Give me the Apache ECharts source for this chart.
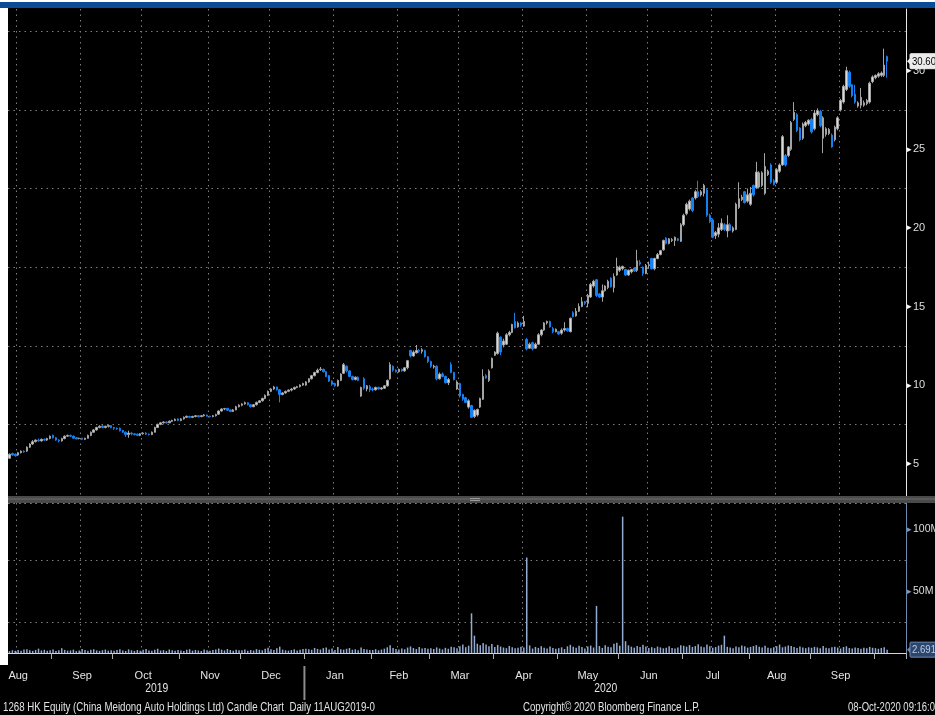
<!DOCTYPE html>
<html>
<head>
<meta charset="utf-8">
<title>1268 HK Equity Candle Chart</title>
<script src="https://cdn.jsdelivr.net/npm/echarts@6/dist/echarts.min.js"></script>
<style>
  html, body { margin: 0; padding: 0; background: #000; }
  #chart { width: 935px; height: 715px; }
</style>
</head>
<body>
<div id="chart"></div>
<script>
// daily candles, [open, close, low, high]
const aug19 = [
  [5.35,5.6,5.3,5.65],[5.65,5.55,5.5,5.7],[5.6,5.5,5.45,5.65],[5.55,5.7,5.5,5.75],[5.7,5.8,5.65,5.85],
  [5.8,5.75,5.7,5.85],[5.8,6.05,5.75,6.1],[6.05,6.25,6.0,6.3],[6.25,6.4,6.2,6.5],[6.4,6.5,6.35,6.55],
  [6.5,6.45,6.4,6.6],[6.45,6.55,6.4,6.6],[6.55,6.5,6.45,6.6],[6.5,6.6,6.45,6.65],[6.6,6.75,6.55,6.8]
];
const sep19 = [
  [6.8,6.65,6.6,6.85],[6.65,6.5,6.45,6.7],[6.5,6.45,6.35,6.55],[6.45,6.6,6.4,6.65],[6.6,6.75,6.55,6.8],
  [6.75,6.8,6.7,6.85],[6.8,6.75,6.7,6.85],[6.75,6.62,6.6,6.8],[6.65,6.58,6.55,6.7],[6.6,6.62,6.55,6.65],
  [6.62,6.55,6.5,6.65],[6.55,6.62,6.5,6.65],[6.62,6.8,6.6,6.85],[6.8,7.0,6.75,7.05],[7.0,7.15,6.95,7.2],
  [7.15,7.3,7.1,7.35],[7.3,7.38,7.25,7.45],[7.4,7.3,7.25,7.45],[7.3,7.38,7.25,7.42],[7.38,7.42,7.3,7.48],
  [7.42,7.3,7.25,7.45]
];
const oct19 = [
  [7.3,7.25,7.15,7.35],[7.25,7.22,7.15,7.3],[7.25,7.1,7.05,7.3],[7.12,7.0,6.95,7.15],[7.0,6.85,6.7,7.05],
  [6.85,6.95,6.65,7.1],[6.95,6.9,6.8,7.0],[6.9,6.85,6.8,6.95],[6.88,6.8,6.75,6.92],[6.8,6.9,6.75,6.95],
  [6.9,6.95,6.85,7.0],[6.95,6.88,6.82,7.0],[6.88,6.85,6.8,6.92],[6.85,7.0,6.82,7.05],[7.0,7.3,6.98,7.35],
  [7.3,7.5,7.28,7.55],[7.5,7.6,7.45,7.65],[7.6,7.65,7.55,7.7],[7.65,7.6,7.55,7.7],[7.6,7.7,7.58,7.75],
  [7.7,7.75,7.65,7.8],[7.75,7.82,7.7,7.88],[7.85,7.75,7.7,7.88]
];
const nov19 = [
  [7.75,7.85,7.7,7.9],[7.85,7.95,7.8,8.0],[7.95,8.02,7.9,8.05],[8.0,7.95,7.9,8.05],[7.95,8.0,7.9,8.05],
  [8.0,8.05,7.95,8.1],[8.05,7.98,7.95,8.1],[8.0,8.05,7.95,8.1],[8.05,8.1,8.0,8.15],[8.1,8.02,8.0,8.12],
  [8.02,7.98,7.95,8.05],[8.0,8.05,7.95,8.1],[8.05,8.12,8.0,8.18],[8.15,8.35,8.1,8.4],[8.35,8.48,8.3,8.52],
  [8.48,8.5,8.4,8.55],[8.52,8.4,8.35,8.55],[8.42,8.32,8.28,8.45],[8.32,8.42,8.3,8.48],[8.42,8.62,8.4,8.68],
  [8.62,8.72,8.58,8.78]
];
const dec19 = [
  [8.72,8.8,8.65,8.85],[8.8,8.88,8.75,8.95],[8.88,8.75,8.7,8.92],[8.75,8.62,8.58,8.8],[8.62,8.75,8.6,8.8],
  [8.75,8.9,8.7,8.95],[8.9,9.0,8.85,9.05],[9.0,9.15,8.95,9.2],[9.15,9.35,9.1,9.4],[9.35,9.6,9.3,9.65],
  [9.6,9.75,9.55,9.8],[9.75,9.88,9.7,9.95],[9.88,9.7,9.65,9.9],[9.7,9.4,8.9,9.75],[9.4,9.5,9.35,9.55],
  [9.5,9.6,9.45,9.65],[9.6,9.68,9.55,9.72],[9.68,9.75,9.6,9.8],[9.75,9.85,9.7,9.9],[9.85,9.9,9.8,9.95],
  [9.9,10.0,9.85,10.05],[10.0,10.1,9.95,10.15]
];
const jan20 = [
  [10.0,10.2,9.95,10.25],[10.2,10.4,10.15,10.45],[10.4,10.6,10.35,10.65],[10.6,10.8,10.55,10.85],[10.8,10.95,10.75,11.05],
  [10.98,11.02,10.9,11.15],[11.0,10.85,10.8,11.05],[10.85,10.55,10.5,10.9],[10.6,10.25,10.2,10.65],[10.25,10.05,9.95,10.3],
  [10.1,9.95,9.9,10.15],[9.95,10.3,9.9,10.35],[10.3,10.7,10.25,10.75],[10.75,11.3,10.7,11.4],[11.2,10.9,10.8,11.25],
  [10.9,10.55,10.5,10.95],[10.55,10.35,10.3,10.6],[10.35,10.5,10.3,10.55],[10.5,10.3,10.25,10.55],[9.3,9.85,9.25,9.9],
  [10.4,9.8,9.7,10.5],[9.75,9.95,9.6,10.0],[9.9,9.7,9.55,10.0]
];
const feb20 = [
  [9.75,9.7,9.6,9.85],[9.7,9.85,9.65,9.9],[9.85,9.75,9.7,9.9],[9.75,9.82,9.7,9.88],[9.8,9.95,9.75,10.0],
  [9.95,10.3,9.9,10.35],[10.4,11.3,10.35,11.45],[11.2,10.95,10.85,11.25],[10.95,10.85,10.8,11.0],[10.85,11.0,10.8,11.05],
  [11.0,10.9,10.85,11.05],[10.9,11.1,10.85,11.15],[11.1,11.55,11.0,11.6],[12.2,11.85,11.75,12.25],[11.85,12.1,11.8,12.2],
  [12.05,12.2,12.0,12.55],[12.2,12.15,12.05,12.3],[12.15,12.25,12.0,12.35],[12.2,11.8,11.75,12.25],[11.8,11.5,11.4,11.85]
];
const mar20 = [
  [11.5,11.2,11.1,11.55],[11.15,11.2,11.05,11.3],[11.2,10.4,10.3,11.25],[10.4,10.7,10.35,10.8],[10.7,10.55,10.5,10.8],
  [10.55,10.15,10.1,10.6],[10.15,10.35,10.0,10.45],[11.3,10.8,10.75,11.45],[10.8,10.35,10.3,10.85],[9.75,10.2,9.7,10.3],
  [10.1,9.3,9.2,10.15],[9.4,9.1,9.0,9.45],[9.2,8.9,8.85,9.25],[8.6,9.0,8.5,9.1],[8.7,7.95,7.9,8.75],
  [8.0,8.4,7.9,8.45],[8.1,8.45,8.0,8.5],[8.6,9.15,8.55,9.2],[9.1,10.55,9.05,11.0],[10.6,10.45,10.4,10.7],
  [10.3,10.9,10.2,11.0],[11.1,11.7,11.05,11.75]
];
const apr20 = [
  [11.9,12.1,11.85,12.15],[12.0,13.3,11.95,13.4],[13.05,12.1,11.9,13.1],[12.55,12.8,12.4,12.95],[12.6,13.2,12.55,13.3],
  [13.2,13.35,13.1,13.45],[13.35,13.85,13.3,13.9],[14.05,13.65,13.6,14.6],[13.7,13.95,13.65,14.05],[13.95,13.8,13.7,14.0],
  [13.75,14.05,13.7,14.4],[12.9,12.3,12.2,13.0],[12.35,12.6,12.3,12.7],[12.7,12.3,12.2,12.75],[12.35,12.6,12.3,12.7],
  [12.6,13.2,12.55,13.3],[13.2,13.5,13.1,13.55],[13.5,13.95,13.45,14.0],[13.95,14.05,13.85,14.1],[14.05,13.7,13.65,14.1],
  [13.6,13.4,13.3,13.7],[13.4,13.55,13.35,13.6]
];
const may20 = [
  [13.4,13.25,13.2,13.45],[13.3,13.5,13.2,13.6],[13.5,13.6,13.4,14.0],[13.6,13.45,13.4,13.65],[13.4,14.25,13.35,14.3],
  [14.6,14.35,14.3,14.7],[14.4,14.7,14.35,14.9],[14.7,15.0,14.65,15.2],[15.0,15.3,14.95,15.6],[15.3,15.2,15.1,15.35],
  [15.2,15.7,14.95,15.8],[15.6,16.4,15.55,16.5],[16.3,16.6,16.2,16.7],[16.7,15.7,15.6,16.75],[15.8,15.6,15.55,15.85],
  [15.6,16.0,15.3,16.4],[16.0,16.3,15.95,16.35],[16.2,16.6,16.1,16.7],[16.8,16.25,16.2,16.85],[16.2,16.9,15.9,17.1],
  [17.0,17.55,16.95,18.1]
];
const jun20 = [
  [17.3,17.5,17.2,17.6],[17.4,17.55,17.3,17.6],[17.35,17.0,16.95,17.4],[17.0,17.3,16.95,17.35],[17.2,17.35,17.1,17.4],
  [17.45,17.25,17.2,17.5],[17.3,17.9,17.2,18.6],[17.8,17.7,17.6,17.95],[17.5,17.1,16.95,17.55],[17.1,17.6,17.05,17.7],
  [17.6,17.65,17.4,17.85],[18.05,17.4,17.35,18.1],[17.4,18.05,17.3,18.1],[18.05,18.3,18.0,18.4],[18.3,18.55,18.25,18.6],
  [18.6,19.2,18.55,19.25],[19.35,19.0,18.95,19.4],[19.0,19.3,18.95,19.35],[19.2,19.25,19.1,19.35],[19.2,19.4,18.85,19.45],
  [19.3,19.2,19.15,19.35],[19.15,20.2,19.1,20.3]
];
const jul20 = [
  [20.2,20.8,20.1,20.9],[20.9,21.5,20.8,21.6],[21.2,21.7,21.1,21.8],[21.9,21.1,21.0,21.95],[21.9,22.3,21.8,22.4],
  [22.3,22.0,21.9,23.0],[22.1,22.3,22.0,22.4],[22.2,22.7,22.0,22.8],[22.4,20.8,20.7,22.5],[20.8,20.4,20.3,20.9],
  [20.5,19.4,19.35,20.6],[19.5,19.7,19.3,19.8],[19.6,20.0,19.4,20.3],[19.9,20.3,19.8,20.6],[20.2,19.9,19.8,20.3],
  [19.8,20.2,19.4,20.8],[20.2,19.85,19.8,20.3],[19.8,20.0,19.7,20.1],[19.9,21.5,19.85,21.6],[21.3,21.85,21.2,22.9],
  [21.8,21.95,21.7,22.1],[22.3,21.6,21.55,22.35],[21.7,22.1,21.6,22.5]
];
const aug20 = [
  [21.5,22.2,21.4,22.6],[22.7,22.1,22.0,22.75],[22.55,23.55,22.5,24.2],[22.6,23.5,22.5,23.6],[22.7,23.5,22.6,23.6],
  [22.2,23.9,22.1,24.75],[23.4,23.6,23.3,23.7],[24.0,22.9,22.8,24.1],[23.0,22.75,22.7,23.1],[22.9,23.7,22.8,23.8],
  [23.6,24.0,23.5,24.1],[24.0,25.8,23.95,25.9],[24.6,24.0,23.9,24.7],[24.6,25.15,24.5,25.2],[25.0,26.7,24.9,26.8],
  [26.9,27.35,26.8,28.0],[27.2,26.2,26.1,27.3],[26.35,25.6,25.5,26.4],[25.7,26.6,25.6,26.7],[26.5,26.7,26.4,26.8],
  [26.6,26.85,26.5,26.9]
];
const sep20 = [
  [26.9,26.1,26.0,27.0],[26.3,27.3,26.2,27.5],[27.2,27.45,27.1,27.6],[27.4,26.5,26.4,27.5],[25.7,27.0,24.75,27.1],
  [25.95,26.3,25.8,26.4],[26.0,26.25,25.9,26.35],[25.9,25.15,25.1,26.0],[25.6,26.4,25.5,26.5],[26.3,27.0,26.2,27.1],
  [27.5,28.1,27.4,28.2],[28.0,29.0,27.9,29.1],[28.8,30.0,28.7,30.25],[29.9,29.0,28.9,30.0],[29.1,28.4,28.3,29.15],
  [28.5,28.0,27.9,29.1],[27.75,27.95,27.65,28.05],[27.8,28.3,27.6,28.9],[27.8,27.95,27.7,28.1],[27.9,28.1,27.8,28.2],
  [28.0,29.2,27.9,29.3],[29.3,29.6,29.2,29.7]
];
const oct20 = [
  [29.55,29.7,29.45,29.75],[29.65,29.8,29.55,29.9],[29.7,29.85,29.6,29.95],[29.7,30.35,29.6,31.4],[30.9,30.6,29.55,30.95]
];

// daily volume, millions
const volAug19 = [1.5,2.2,1.8,2.5,1.9,2.8,3.1,2.2,1.7,2.4,3.5,2.1,2.6,1.8,2.3];
const volSep19 = [2.9,1.6,2.2,3.8,2.5,1.9,2.1,2.7,1.5,2.0,3.2,2.4,1.8,2.6,3.0,2.1,1.7,2.3,2.8,1.9,2.2];
const volOct19 = [1.8,2.5,3.1,2.0,1.6,2.9,2.2,1.7,2.4,1.9,2.6,3.3,2.1,1.8,2.7,3.4,2.0,2.3,1.6,2.8,2.2,1.9,2.5];
const volNov19 = [2.1,1.7,2.6,3.0,1.9,2.4,2.0,1.6,2.8,2.2,1.8,2.5,2.9,3.6,2.7,2.1,3.2,2.4,1.9,2.6,2.3];
const volDec19 = [2.2,2.9,1.8,2.4,2.0,3.1,2.6,2.2,3.5,4.2,3.0,2.5,3.8,5.1,2.7,2.2,1.9,2.4,3.0,2.1,2.6,3.3];
const volJan20 = [3.5,3.0,2.6,4.1,3.3,2.8,3.9,4.5,2.9,3.6,2.5,4.8,3.1,2.7,3.4,4.0,2.6,3.0,2.3,4.4,3.2,2.8,2.5];
const volFeb20 = [2.4,3.1,2.2,2.8,3.5,4.6,6.2,4.1,3.3,2.9,3.6,3.0,4.4,5.3,4.0,3.2,4.8,3.7,4.1,3.5];
const volMar20 = [3.8,3.2,4.5,3.6,2.9,4.2,3.4,5.1,4.6,3.9,5.5,6.8,4.7,5.9,32,14,7.5,6.2,8.1,6.9,5.4,7.2];
const volApr20 = [4.8,6.5,5.2,4.4,3.9,5.7,4.6,3.8,4.2,5.0,4.5,77,6.1,3.6,4.9,4.1,5.5,4.3,3.7,5.2,4.0,3.5];
const volMay20 = [3.9,4.6,3.2,5.4,6.6,5.1,4.3,5.8,4.9,3.7,5.2,6.0,4.4,38,5.6,4.1,6.3,5.0,4.6,7.4,8.2];
const volJun20 = [5.9,110,9.5,6.2,5.1,4.3,5.6,4.8,6.7,5.3,4.1,4.7,3.9,5.2,4.5,3.8,4.2,5.5,4.0,3.6,4.4,6.2];
const volJul20 = [5.8,5.1,6.4,4.9,5.6,7.1,5.3,4.6,6.8,5.5,4.2,4.8,5.9,6.6,14,5.0,4.4,3.9,5.2,4.7,6.0,5.4,4.3];
const volAug20 = [4.9,5.6,6.3,5.1,4.4,5.8,4.2,3.8,4.7,5.5,6.8,4.6,5.2,6.1,5.7,4.9,4.1,5.3,4.5,3.9,4.6];
const volSep20 = [4.2,5.0,4.5,3.8,5.6,4.3,3.9,4.7,5.1,4.4,3.6,4.8,5.4,4.0,3.7,4.5,4.1,3.5,4.3,3.8,4.9,4.2];
const volOct20 = [3.9,3.4,4.1,4.6,2.691];

// axis text
const monthNames = ['Jan','Feb','Mar','Apr','May','Jun','Jul','Aug','Sep','Oct','Nov','Dec'];
const priceLabels = [5, 10, 15, 20, 25, 30];
const volumeLabels = [50, 100];
const yearLabels = ['2019', '2020'];
const firstDay = '2019-08-12';
const lastDay = '2020-10-16';   // a few empty sessions after the last candle
const lastLabelMonth = '2020-09';
const holidays = ['2020-10-01'];
const lastPrice = 30.60;
const lastVolume = 2.691;
const footerLeft = '1268 HK Equity (China Meidong Auto Holdings Ltd) Candle Chart  Daily 11AUG2019-0';
const footerMid = 'Copyright\u00a9 2020 Bloomberg Finance L.P.';
const footerRight = '08-Oct-2020 09:16:0';

const FONT = '"Liberation Sans", Arial, sans-serif';
const GRID_DOTS = '#7c7c7c';
const TEXT = '#e4e4e4';

const candles = [].concat(aug19, sep19, oct19, nov19, dec19, jan20, feb20, mar20, apr20, may20, jun20, jul20, aug20, sep20, oct20);
const volumes = [].concat(volAug19, volSep19, volOct19, volNov19, volDec19, volJan20, volFeb20, volMar20, volApr20, volMay20, volJun20, volJul20, volAug20, volSep20, volOct20);

// trading sessions (weekdays)
const buildDays = () => {
    const out = [];
    const d = new Date(firstDay + 'T00:00:00Z');
    const end = new Date(lastDay + 'T00:00:00Z');
    while (d <= end) {
        const wd = d.getUTCDay();
        const iso = d.toISOString().slice(0, 10);
        if (wd !== 0 && wd !== 6 && !holidays.includes(iso)) out.push(iso);
        d.setUTCDate(d.getUTCDate() + 1);
    }
    return out;
};
const days = buildDays();

// month start ticks and mid-month labels / grid lines
const midIdx = new Set();
const startIdx = new Set();
const best = {};
days.forEach((d, i) => {
    const key = d.slice(0, 7);
    if (i > 0 && key !== days[i - 1].slice(0, 7)) startIdx.add(i);
    if (key > lastLabelMonth) return;
    const dist = Math.abs(+d.slice(8) - 15);
    if (!(key in best) || dist < best[key].dist) best[key] = { i, dist };
});
Object.values(best).forEach(b => midIdx.add(b.i));
const isMid = (i) => midIdx.has(i);
const isStart = (i) => startIdx.has(i);

// squeeze text horizontally to the narrow terminal font width
const measure = (() => {
    const ctx = document.createElement('canvas').getContext('2d');
    return (text, px) => { ctx.font = `${px}px ${FONT}`; return ctx.measureText(text).width; };
})();
const fitText = (text, x, y, width, px, fill, extra) => Object.assign({
    type: 'text', z: 100, x, y, scaleX: width / measure(text, px), scaleY: 1,
    style: { text, fill, font: `${px}px ${FONT}`, textVerticalAlign: 'middle' }
}, extra || {});

const chart = echarts.init(document.getElementById('chart'));

const option = {
    backgroundColor: '#000',
    animation: false,
    textStyle: { fontFamily: FONT },
    grid: [
        { left: 8, right: 29, top: 9, height: 494, outerBoundsMode: 'none' },
        { left: 8, right: 29, top: 503, height: 150, outerBoundsMode: 'none' }
    ],
    xAxis: [
        {
            type: 'category', gridIndex: 0, data: days, boundaryGap: true,
            axisLine: { show: false }, axisTick: { show: false }, axisLabel: { show: false },
            splitLine: { show: true, interval: isMid, lineStyle: { color: GRID_DOTS, width: 1, type: [1.5, 4] } }
        },
        {
            type: 'category', gridIndex: 1, data: days, boundaryGap: true, offset: 12,
            axisLine: { show: true, lineStyle: { color: '#d6d6d6', width: 1 } },
            axisTick: { show: true, interval: isStart, length: 6, lineStyle: { color: '#b0b0b0' } },
            axisLabel: {
                show: true, interval: isMid, margin: 5, color: TEXT, fontSize: 11, fontFamily: FONT,
                formatter: (v) => monthNames[+v.slice(5, 7) - 1]
            },
            splitLine: { show: true, interval: isMid, lineStyle: { color: GRID_DOTS, width: 1, type: [1.5, 4] } }
        }
    ],
    yAxis: [
        {
            type: 'value', gridIndex: 0, position: 'right', min: 2.5, max: 33.92, interval: 2.5,
            axisLine: { show: true, onZero: false, lineStyle: { color: '#e8e8e8', width: 1 } },
            axisTick: { show: false },
            axisLabel: {
                margin: 1, showMaxLabel: false, showMinLabel: false,
                formatter: (v) => priceLabels.includes(v) ? `{t|▸}{v|${v}}` : '',
                rich: {
                    t: { color: '#ffffff', fontSize: 9, padding: [0, 1, 0, 0] },
                    v: { color: '#dedede', fontSize: 11, fontFamily: FONT }
                }
            },
            splitLine: { show: true, lineStyle: { color: [GRID_DOTS, 'transparent'], width: 1, type: [1.5, 4] } }
        },
        {
            type: 'value', gridIndex: 1, position: 'right', min: 0, max: 121, interval: 25,
            axisLine: { show: true, onZero: false, lineStyle: { color: '#6f88ad', width: 1 } },
            axisTick: { show: false },
            axisLabel: {
                margin: 1, showMaxLabel: false, showMinLabel: false,
                formatter: (v) => volumeLabels.includes(v) ? `{t|▸}{v|${v}M}` : '',
                rich: {
                    t: { color: '#7d97c0', fontSize: 9, padding: [0, 1, 0, 0] },
                    v: { color: '#dedede', fontSize: 10.5, fontFamily: FONT }
                }
            },
            splitLine: { show: true, lineStyle: { color: ['transparent', GRID_DOTS], width: 1, type: [1.5, 4] } }
        }
    ],
    series: [
        {
            type: 'candlestick', name: 'Price', xAxisIndex: 0, yAxisIndex: 0,
            data: candles, barWidth: 2,
            itemStyle: { color: '#dadada', color0: '#1580f2', borderColor: '#a4a4a4', borderColor0: '#1580f2', borderWidth: 1 }
        },
        {
            type: 'bar', name: 'Volume', xAxisIndex: 1, yAxisIndex: 1,
            data: volumes, barWidth: 1.5,
            itemStyle: { color: '#93abd0' }
        }
    ]
};

chart.setOption(option);

// frame decorations, value tags and footer text
const centerOf = (iso) => chart.convertToPixel({ xAxisIndex: 1 }, iso);
const band = centerOf(days[1]) - centerOf(days[0]);
const x0 = centerOf(days[0]) - band / 2;
const yearStart = centerOf(days.find(d => d.startsWith('2020'))) - band / 2;
const axisEnd = 935 - 29;
const priceY = chart.convertToPixel({ yAxisIndex: 0 }, lastPrice);
const volumeY = chart.convertToPixel({ yAxisIndex: 1 }, lastVolume);

const valueTag = (text, y, fill, stroke, color) => [
    { type: 'polygon', z: 110, shape: { points: [[axisEnd + 1, y], [axisEnd + 5, y - 4], [axisEnd + 5, y + 4]] }, style: { fill: stroke } },
    { type: 'rect', z: 110, shape: { x: axisEnd + 4, y: y - 7.5, width: 40, height: 15, r: 1 }, style: { fill, stroke, lineWidth: 1 } },
    fitText(text, axisEnd + 6, y + 0.5, 24, 11, color, { z: 111 })
];

chart.setOption({
    graphic: [
        { type: 'rect', z: 100, shape: { x: 0, y: 0, width: 935, height: 2 }, style: { fill: '#ffffff' } },
        { type: 'rect', z: 100, shape: { x: 0, y: 2, width: 935, height: 6 }, style: { fill: '#0b4c97' } },
        { type: 'rect', z: 100, shape: { x: 0, y: 8, width: 8, height: 657 }, style: { fill: '#ffffff' } },
        { type: 'rect', z: 100, shape: { x: 8, y: 496, width: 927, height: 7 }, style: { fill: '#4a4a4a' } },
        { type: 'rect', z: 101, shape: { x: 8, y: 498, width: 927, height: 2 }, style: { fill: '#5a5a5a' } },
        { type: 'rect', z: 102, shape: { x: 470, y: 498, width: 10, height: 1 }, style: { fill: '#9a9a9a' } },
        { type: 'rect', z: 102, shape: { x: 470, y: 500, width: 10, height: 1 }, style: { fill: '#9a9a9a' } },
        { type: 'line', z: 100, shape: { x1: yearStart, y1: 666, x2: yearStart, y2: 700 }, style: { stroke: '#8c8c8c', lineWidth: 2 } },
        fitText(yearLabels[0], (x0 + yearStart) / 2 - 11, 689, 23, 12, TEXT),
        fitText(yearLabels[1], (yearStart + axisEnd) / 2 - 11, 689, 23, 12, TEXT),
        fitText(footerLeft, 3, 708, 372, 12, TEXT),
        fitText(footerMid, 523, 708, 177, 12, TEXT),
        fitText(footerRight, 848, 708, 87, 12, TEXT),
        ...valueTag(lastPrice.toFixed(2), priceY, '#ececec', '#ececec', '#000000'),
        ...valueTag(String(lastVolume), volumeY, '#2d476c', '#6d89b3', '#bccdea')
    ]
});

window.addEventListener('resize', () => chart.resize());
</script>
</body>
</html>
